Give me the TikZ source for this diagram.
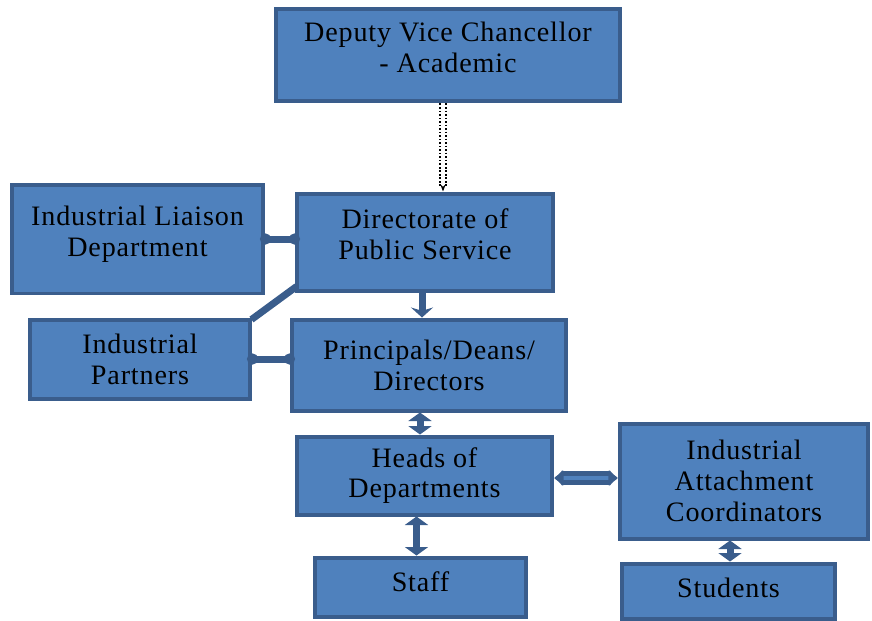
\documentclass[tikz,border=0pt]{standalone}
\usepackage{fontspec}
\setmainfont{Liberation Serif}[LetterSpace=3]
\usepackage{tikz}
\usetikzlibrary{positioning, calc, arrows.meta}

\definecolor{boxfill}{HTML}{4F81BD}
\definecolor{boxline}{HTML}{3A5D8C}

\begin{document}
\begin{tikzpicture}[x=0.02cm, y=-0.02cm,
    box/.style={draw=boxline, fill=boxfill, line width=0.08cm, align=center,
                font=\fontsize{16}{17.5}\selectfont, inner sep=0pt},
    raised/.style={text depth=#1},
    link/.style={draw=boxline, line width=0.14cm},
    twoway/.style={link, {Stealth[length=0.17cm, width=0.46cm, inset=0pt]}-{Stealth[length=0.17cm, width=0.46cm, inset=0pt]}},
    oneway/.style={link, -{Stealth[length=0.2cm, width=0.44cm]}}]

    % Fixed frame of the picture
    \useasboundingbox (0,0) rectangle (872,620);

    % Top box
    \node[box, raised=8.5pt, minimum width=6.9cm, minimum height=1.86cm] (dvc) at (448,55)
        {Deputy Vice Chancellor\\- Academic};

    % Middle row: directorate with liaison and partners on its left
    \node[box, raised=9pt, minimum width=5.14cm, minimum height=1.94cm] (dps) at (425,242)
        {Directorate of\\Public Service};
    \node[box, raised=9pt, minimum width=5.04cm, minimum height=2.18cm] (ild) at (137.5,239)
        {Industrial Liaison\\Department};
    \node[box, minimum width=4.42cm, minimum height=1.58cm] (ip) at (140,359)
        {Industrial\\Partners};
    \node[box, minimum width=5.5cm, minimum height=1.82cm] (pdd) at (429,365)
        {Principals/Deans/\\Directors};

    % Lower rows
    \node[box, minimum width=5.12cm, minimum height=1.56cm] (hod) at (424.5,475.5)
        {Heads of\\Departments};
    \node[box, minimum width=4.98cm, minimum height=2.30cm] (iac) at (744,481)
        {Industrial\\Attachment\\Coordinators};
    \node[box, raised=5.7pt, minimum width=4.24cm, minimum height=1.18cm] (staff) at (420.5,587)
        {Staff};
    \node[box, raised=3.5pt, minimum width=4.28cm, minimum height=1.10cm] (students) at (728.5,591)
        {Students};

    % Dotted link from the top box down to the directorate
    \draw[densely dotted, double=white, double distance=2pt, line width=1pt,
          -{Stealth[length=0.14cm]}] ($(dvc.south)+(-5,0)$) -- ($(dvc.south |- dps.north)+(-5,0)$);

    % Plain links on the left
    \draw[link] (ild.east) -- (ild.east -| dps.west);
    \draw[link] ($(ip.north east)+(-1,2)$) -- ($(dps.south west)+(2,-6)$);
    \draw[link] (ip.east) -- (ip.east -| pdd.west);
    \fill[boxline] (ild.east) circle (3.2pt);
    \fill[boxline] (ild.east -| dps.west) circle (3.2pt);
    \fill[boxline] (ip.east) circle (3.2pt);
    \fill[boxline] (ip.east -| pdd.west) circle (3.2pt);

    % Arrows down the chain
    \draw[oneway] ($(dps.south)+(-3,0)$) -- ($(dps.south |- pdd.north)+(-3,0)$);
    \draw[twoway] ($(pdd.south)+(-9,0)$) -- ($(pdd.south |- hod.north)+(-9,0)$);
    \draw[twoway] ($(hod.south)+(-8,0)$) -- ($(hod.south |- staff.north)+(-8,0)$);
    \draw[twoway] ($(iac.south)+(-14,0)$) -- ($(iac.south |- students.north)+(-14,0)$);

    % Hollow two-way link to the coordinators
    \draw[draw=boxline, double=boxfill, double distance=2.5pt, line width=2.6pt,
          {Latex[round, length=0.2cm, width=0.4cm]}-{Latex[round, length=0.2cm, width=0.4cm]}]
          ($(hod.east)+(0,2.5)$) -- ($(hod.east -| iac.west)+(0,2.5)$);

\end{tikzpicture}
\end{document}
